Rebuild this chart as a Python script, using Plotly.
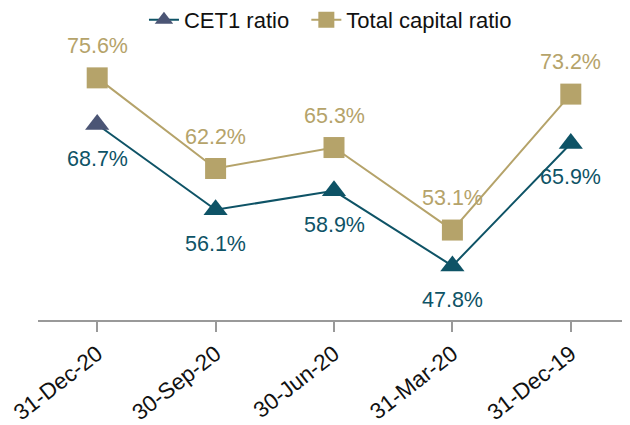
import plotly.graph_objects as go

categories = ["31-Dec-20", "30-Sep-20", "30-Jun-20", "31-Mar-20", "31-Dec-19"]
cet1 = [68.7, 56.1, 58.9, 47.8, 65.9]
total = [75.6, 62.2, 65.3, 53.1, 73.2]

TEAL = "#0e5366"
GOLD = "#b5a36a"
FIRST = "#4b5575"
FONT = "Arial, Liberation Sans, sans-serif"

fig = go.Figure()
fig.add_trace(go.Scatter(
    x=categories, y=cet1, name="CET1 ratio\u00a0\u00a0", mode="lines+markers",
    line=dict(color=TEAL, width=2),
    marker=dict(symbol="triangle-up", size=21,
                color=[FIRST] + [TEAL] * (len(cet1) - 1)),
))
fig.add_trace(go.Scatter(
    x=categories, y=total, name="Total capital ratio", mode="lines+markers",
    line=dict(color=GOLD, width=2),
    marker=dict(symbol="square", size=21, color=GOLD),
))

for c, v in zip(categories, cet1):
    fig.add_annotation(x=c, y=v, text=f"{v:.1f}%", showarrow=False, yshift=-34,
                       font=dict(color=TEAL, size=21.5, family=FONT))
for c, v in zip(categories, total):
    fig.add_annotation(x=c, y=v, text=f"{v:.1f}%", showarrow=False, yshift=32,
                       font=dict(color=GOLD, size=21.5, family=FONT))

# page body has an 8px margin, so the figure is sized to end at the window edge
fig.update_layout(
    width=622, height=417,
    margin=dict(l=30, r=0, t=32, b=105, autoexpand=False),
    paper_bgcolor="white", plot_bgcolor="white",
    font=dict(family=FONT, size=21.5, color="#111"),
    legend=dict(orientation="h", x=0.179, xanchor="left", y=1.072, yanchor="middle",
                font=dict(size=22, color="#111"), itemwidth=30),
    showlegend=True,
)
fig.update_xaxes(
    type="category", range=[-0.5, 4.5], showgrid=False, automargin=False,
    showline=True, linecolor="#999999", linewidth=2,
    ticks="outside", ticklen=10, tickcolor="#999999", tickwidth=2,
    tickangle=-38, tickfont=dict(size=22.5, color="#111"),
)
fig.update_yaxes(range=[39.8, 81.2], visible=False, showgrid=False, zeroline=False,
                 automargin=False)

fig.write_html("out.html")
